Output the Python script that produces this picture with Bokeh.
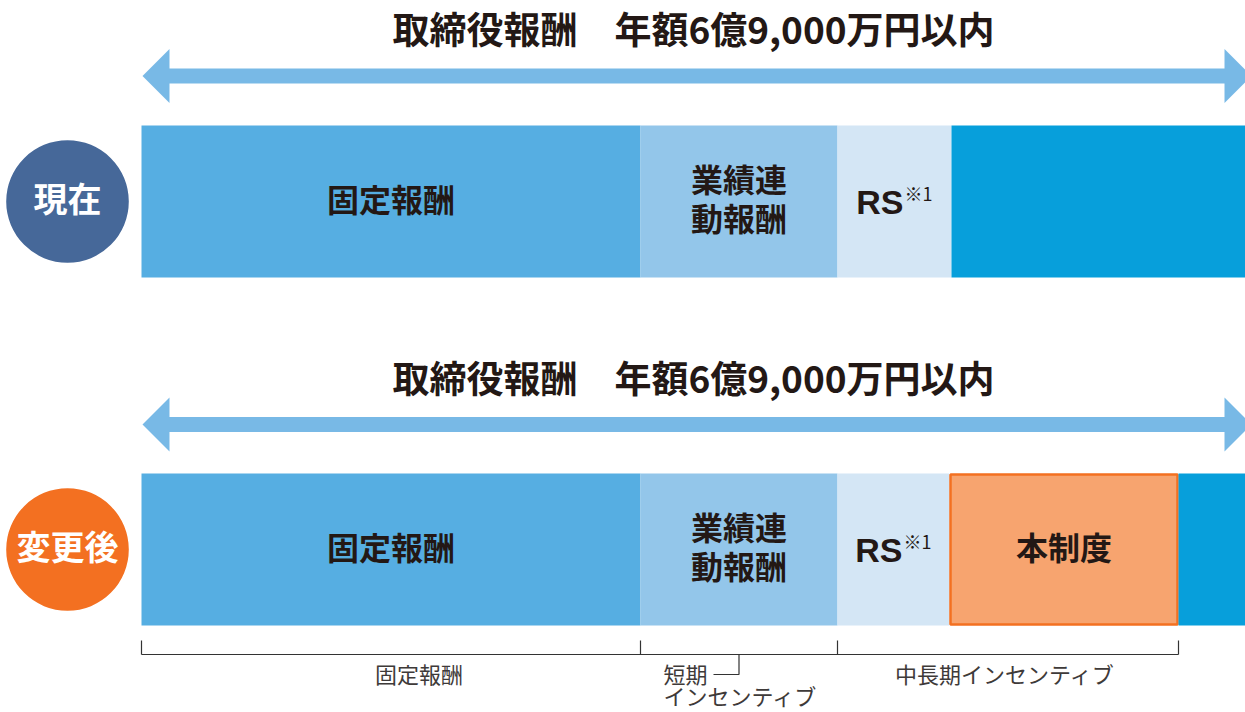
from bokeh.plotting import figure
from bokeh.models import Range1d
from bokeh.core.properties import value
from bokeh.embed import file_html
from bokeh.resources import INLINE
import numpy as np

# ---------------- data ----------------
title_text = "取締役報酬　年額6億9,000万円以内"
row_labels = ["現在", "変更後"]

current_names = ["固定報酬", "業績連\n動報酬", "RS", ""]
current_widths = [499, 197, 114, 300]

after_names = ["固定報酬", "業績連\n動報酬", "RS", "本制度", ""]
after_widths = [499, 197, 112, 229, 73]

rs_note = "※1"

group_names = ["固定報酬", "短期\nインセンティブ", "中長期インセンティブ"]
group_spans = [1, 1, 2]   # number of segments of the new plan in each group

# ---------------- styles ----------------
seg_color = {"固定報酬": "#56aee2", "業績連\n動報酬": "#93c6ea", "RS": "#d4e6f5",
             "本制度": "#f7a46f", "": "#079fdb"}
row_colors = ["#466899", "#f37021"]
arrow_color = "#78b9e6"
ink = "#231815"
thin_ink = "#3e3a39"
CJK = value("Noto Sans CJK JP")
LAT = value("Liberation Sans")
DY = -4  # optical correction for CJK "middle" baseline

W, H = 1245, 712
X0 = 141  # bar start (pixel)
p = figure(width=W, height=H, x_range=Range1d(-X0, W - X0), y_range=Range1d(H, 0),
           output_backend="svg", toolbar_location=None, x_axis_location=None,
           y_axis_location=None, min_border=0, outline_line_color=None,
           background_fill_color="white")
p.grid.visible = False

rows = [(current_names, current_widths, 201, 75.5), (after_names, after_widths, 549, 424)]
BAR_H = 152

for i, (names, widths, yc, ya) in enumerate(rows):
    widths = np.array(widths, dtype=float)
    rights = np.cumsum(widths)
    lefts = rights - widths
    total = rights[-1]

    # arrow
    hs, hh, hl = 7.5, 27, 27
    xs = [1, 1 + hl, 1 + hl, total - hl, total - hl, total, total - hl, total - hl, 1 + hl, 1 + hl]
    ys = [ya, ya - hh, ya - hs, ya - hs, ya - hh, ya, ya + hh, ya + hs, ya + hs, ya + hh]
    p.patch(xs, ys, fill_color=arrow_color, line_color=None)
    p.text(x=[total / 2 - 3], y=[ya - 44 + DY], text=[title_text], text_font=CJK,
           text_font_size="37px", text_font_style="bold", text_color=ink,
           text_align="center", text_baseline="middle")

    # bars
    for n, l, r in zip(names, lefts, rights):
        if n == "本制度":
            p.quad(left=l + 1, right=r - 1, top=yc - BAR_H / 2 + 1, bottom=yc + BAR_H / 2 - 1,
                   fill_color=seg_color[n], line_color="#f37021", line_width=2.5)
        else:
            p.quad(left=l, right=r, top=yc - BAR_H / 2, bottom=yc + BAR_H / 2,
                   fill_color=seg_color[n], line_color=None)
        mid = (l + r) / 2
        if n == "RS":
            p.text(x=[mid + 9], y=[yc], text=["RS"], text_font=LAT, text_font_size="34px",
                   text_font_style="bold", text_color=ink, text_align="right",
                   text_baseline="middle")
            p.text(x=[mid + 10], y=[yc - 9], text=[rs_note], text_font=CJK,
                   text_font_size="18px", text_color=ink, text_align="left",
                   text_baseline="middle")
        elif n:
            lines = n.split("\n")
            if len(lines) == 1:
                p.text(x=[mid], y=[yc + DY], text=[n], text_font=CJK, text_font_size="32px",
                       text_font_style="bold", text_color=ink, text_align="center",
                       text_baseline="middle")
            else:
                p.text(x=[mid, mid], y=[yc - 20 + DY, yc + 19 + DY], text=lines, text_font=CJK,
                       text_font_size="32px", text_font_style="bold", text_color=ink,
                       text_align="center", text_baseline="middle")

    # circle badge
    p.circle(x=[67 - X0], y=[yc], radius=61.3, fill_color=row_colors[i], line_color=None)
    p.text(x=[67 - X0], y=[yc + DY], text=[row_labels[i]], text_font=CJK, text_font_size="34px",
           text_font_style="bold", text_color="white", text_align="center",
           text_baseline="middle")

# bracket below the new plan
aw = np.array(after_widths, dtype=float)
bounds = [0.0]
k = 0
for s in group_spans:
    k += s
    bounds.append(float(np.sum(aw[:k])))
yl, yt = 654, 640
p.segment(x0=[bounds[0]], y0=[yl], x1=[bounds[-1]], y1=[yl], line_color="#333333", line_width=1.2)
p.segment(x0=bounds, y0=[yt] * len(bounds), x1=bounds, y1=[yl] * len(bounds),
          line_color="#333333", line_width=1.2)

label_y = 672
shifts = [28, 0, -3]
for j, g in enumerate(group_names):
    l, r = bounds[j], bounds[j + 1]
    mid = (l + r) / 2
    if "\n" in g:
        first, second = g.split("\n")
        p.text(x=[l + 23], y=[label_y], text=[first], text_font=CJK, text_font_size="22px",
               text_color=thin_ink, text_align="left", text_baseline="middle")
        p.text(x=[l + 23], y=[694], text=[second], text_font=CJK, text_font_size="22px",
               text_color=thin_ink, text_align="left", text_baseline="middle")
        p.line(x=[l + 73, mid, mid], y=[label_y + 2, label_y + 2, yl], line_color="#333333",
               line_width=1.2)
    else:
        p.text(x=[mid + shifts[j]], y=[label_y], text=[g], text_font=CJK, text_font_size="22px",
               text_color=thin_ink, text_align="center", text_baseline="middle")

open("out.html", "w").write(file_html(p, INLINE))
